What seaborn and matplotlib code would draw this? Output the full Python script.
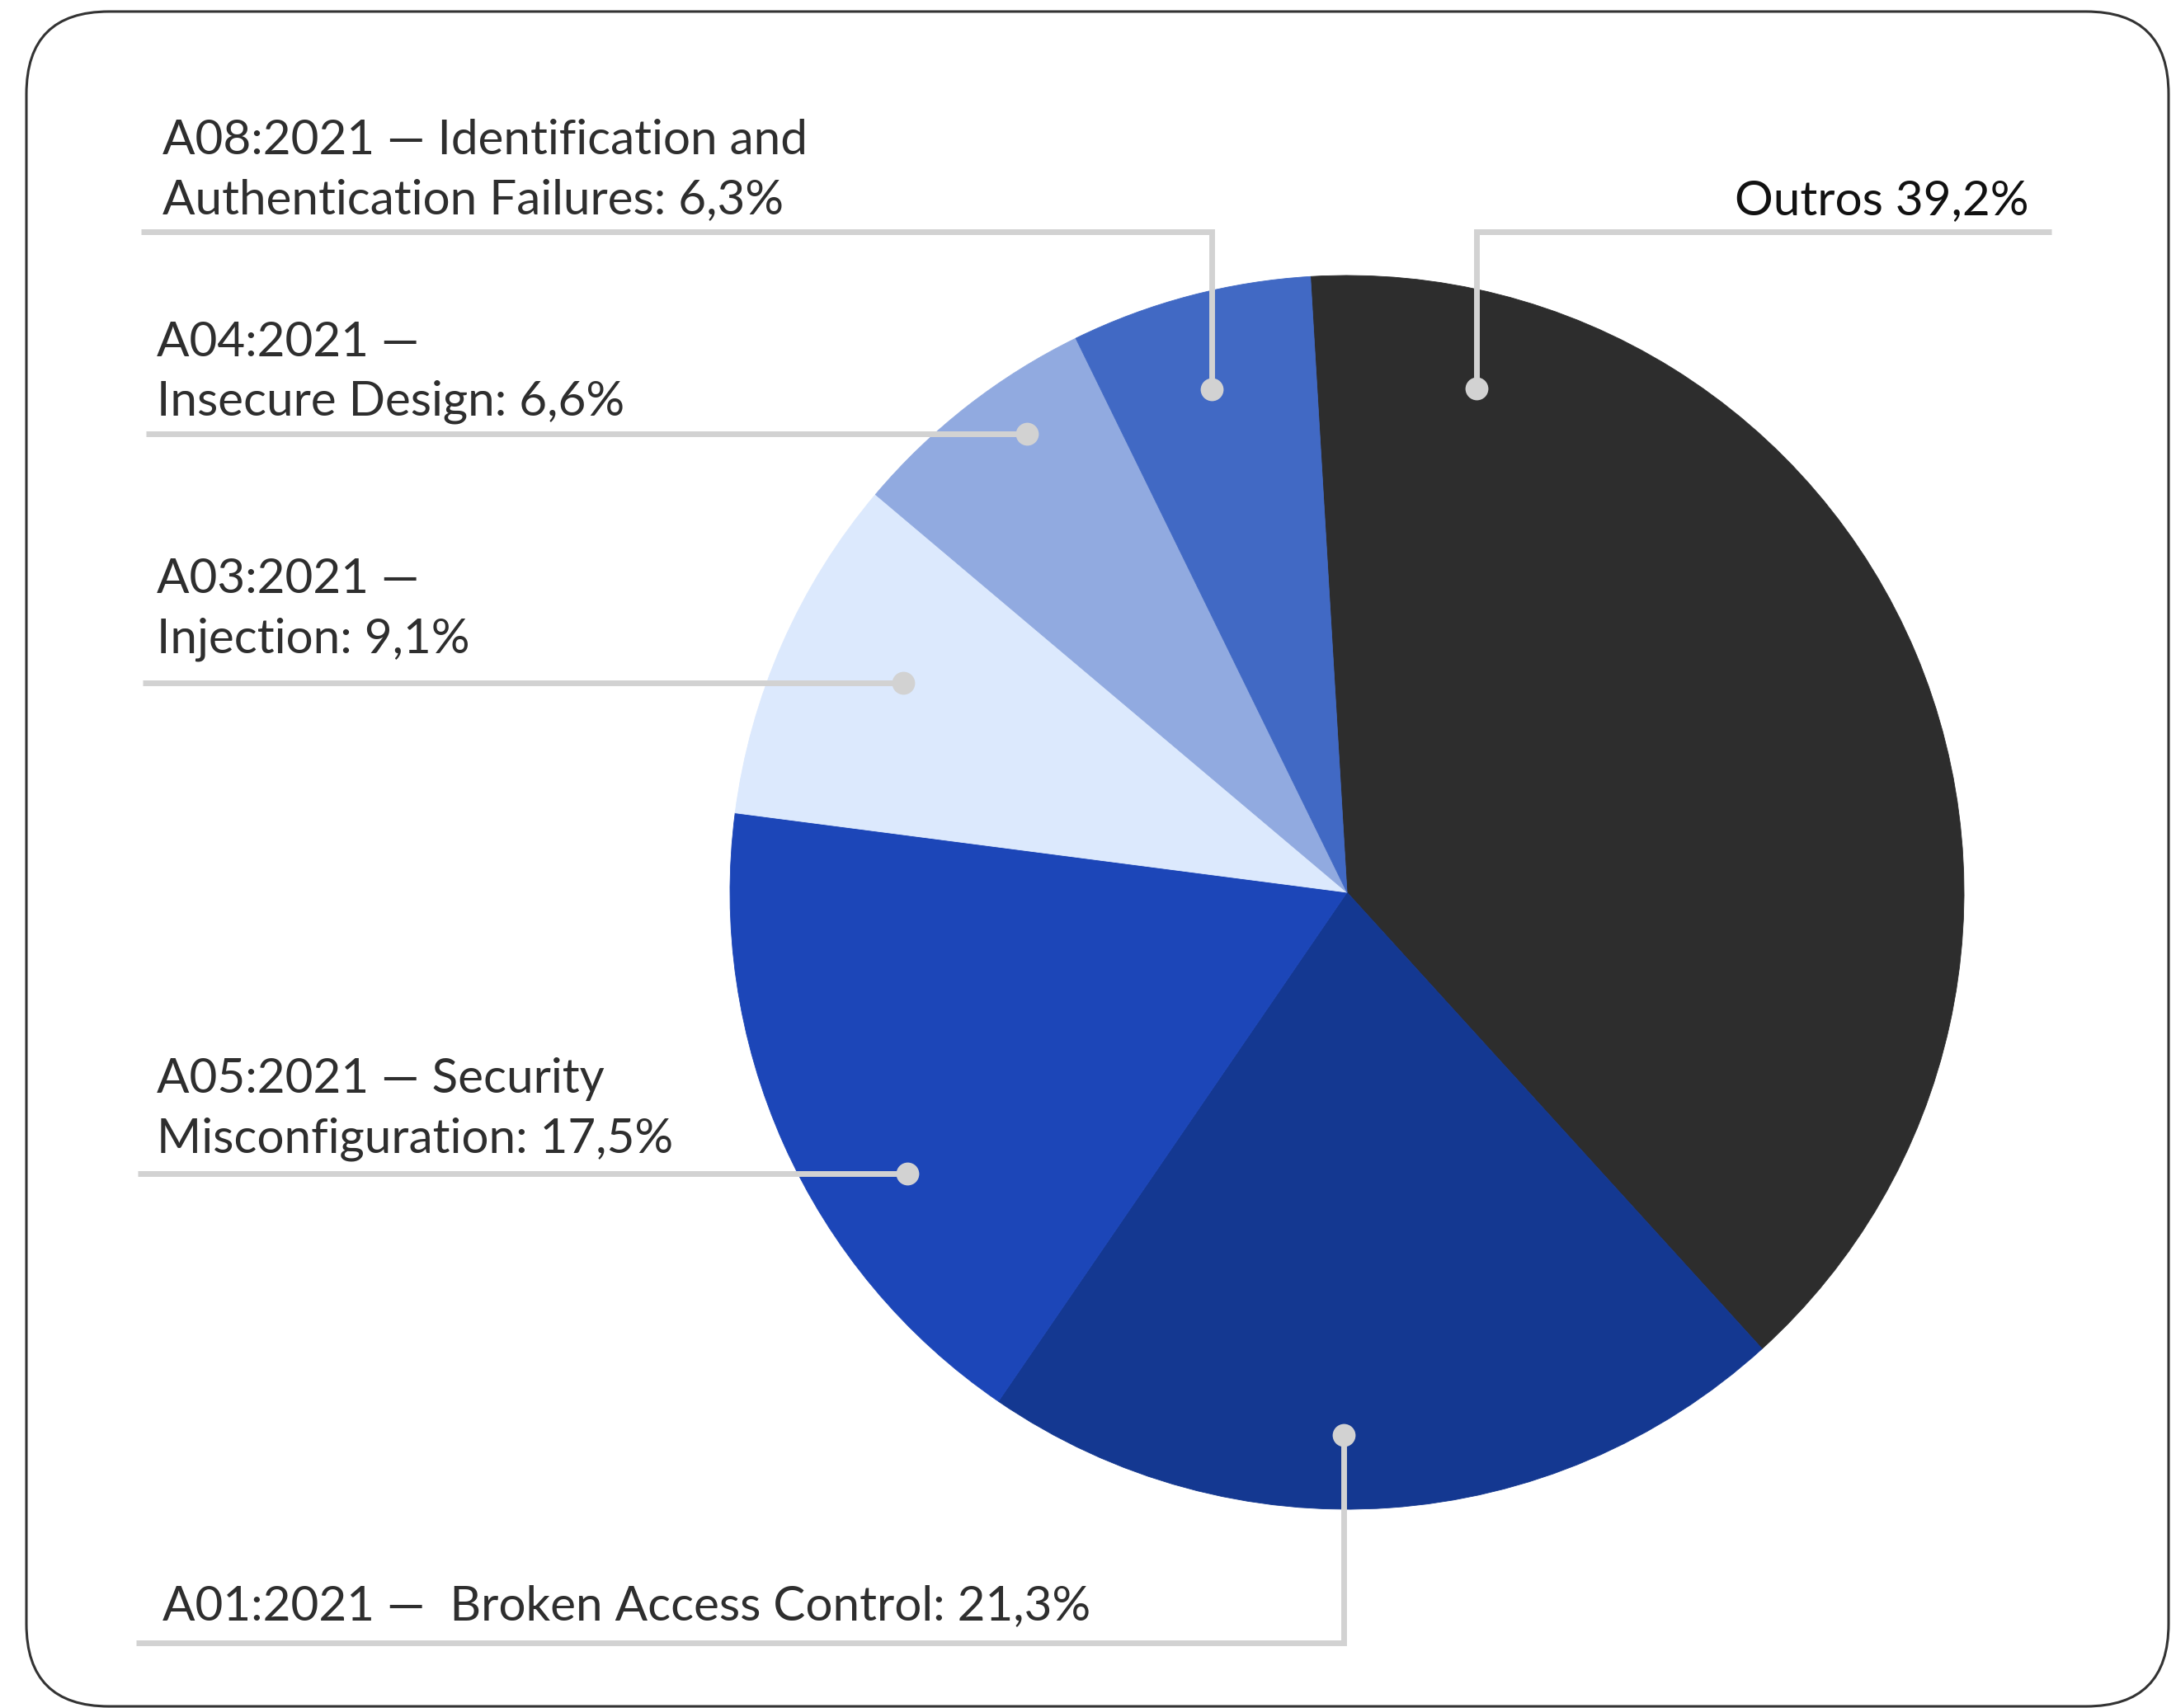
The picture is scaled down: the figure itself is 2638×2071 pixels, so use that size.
import matplotlib
matplotlib.use("Agg")
import matplotlib.pyplot as plt
from matplotlib.patches import FancyBboxPatch
import pandas as pd
import seaborn as sns

# ---------------------------------------------------------------- data
categories = ["Outros", "A01:2021", "A05:2021", "A03:2021", "A04:2021", "A08:2021"]
shares = [39.2, 21.3, 17.5, 9.1, 6.6, 6.3]
slice_colors = ["#2d2d2d", "#143891", "#1c46b8", "#dce9fd", "#91aae0", "#4169c4"]
label_templates = [
    "Outros {pct}",
    "A01:2021 —  Broken Access Control: {pct}",
    "A05:2021 — Security\nMisconfiguration: {pct}",
    "A03:2021 —\nInjection: {pct}",
    "A04:2021 —\nInsecure Design: {pct}",
    "A08:2021 — Identification and\nAuthentication Failures: {pct}",
]

df = pd.DataFrame({"category": categories, "share": shares,
                   "color": slice_colors, "template": label_templates})

# ---------------------------------------------------------------- canvas (pixel units, y from top)
W, H = 2638, 2071
DPI = 100

sns.set_theme(style="white")
plt.rcParams["font.family"] = ["Lato", "DejaVu Sans"]

fig = plt.figure(figsize=(W / DPI, H / DPI), dpi=DPI, facecolor="white")
ax = fig.add_axes([0, 0, 1, 1])


def Y(y):
    """Convert a top-down pixel row to the upward data axis."""
    return H - y


# ---------------------------------------------------------------- pie
PIE_CX, PIE_CY, PIE_R = 1633, 1082, 748
ax.pie(df["share"], colors=df["color"], startangle=93.4, counterclock=False,
       center=(PIE_CX, Y(PIE_CY)), radius=PIE_R,
       wedgeprops=dict(linewidth=0.6, antialiased=True))
for w in ax.patches:
    w.set_edgecolor(w.get_facecolor())

ax.set_xlim(0, W)
ax.set_ylim(0, H)
ax.set_aspect("equal")
ax.axis("off")

# ---------------------------------------------------------------- callouts
# text anchor (x, first baseline), alignment, leader tail x, shelf y, dot (x, y)
callouts = {
    "Outros":   dict(tx=2460, ty=260,  ha="right", tail=2487, shelf=281,  dot=(1790, 471)),
    "A01:2021": dict(tx=197,  ty=1964, ha="left",  tail=165,  shelf=1992, dot=(1629, 1740)),
    "A05:2021": dict(tx=190,  ty=1325, ha="left",  tail=167,  shelf=1423, dot=(1100, 1423)),
    "A03:2021": dict(tx=190,  ty=719,  ha="left",  tail=173,  shelf=828,  dot=(1095, 828)),
    "A04:2021": dict(tx=190,  ty=432,  ha="left",  tail=177,  shelf=526,  dot=(1245, 526)),
    "A08:2021": dict(tx=197,  ty=187,  ha="left",  tail=171,  shelf=281,  dot=(1469, 472)),
}

LEADER = "#d2d2d2"
TEXT = "#2e2e2e"
LINE_STEP = 72  # px between baselines

for _, row in df.iterrows():
    c = callouts[row["category"]]
    dx, dy = c["dot"]
    xs = [c["tail"], dx, dx]
    ys = [Y(c["shelf"]), Y(c["shelf"]), Y(dy)]
    ax.plot(xs, ys, color=LEADER, lw=5.0, solid_capstyle="butt",
            solid_joinstyle="miter", zorder=3)
    ax.plot([dx], [Y(dy)], "o", ms=20, color=LEADER, mew=0, zorder=4)

    pct = f"{row['share']:.1f}".replace(".", ",") + "%"
    label = row["template"].format(pct=pct)
    color = "#111111" if row["category"] == "Outros" else TEXT
    for i, line in enumerate(label.split("\n")):
        ax.text(c["tx"], Y(c["ty"] + i * LINE_STEP), line,
                ha=c["ha"], va="baseline", fontsize=42, color=color, zorder=5)

# ---------------------------------------------------------------- rounded frame
frame = FancyBboxPatch((32, Y(2069)), 2629 - 32, 2069 - 14,
                       boxstyle="round,pad=0,rounding_size=100",
                       facecolor="none", edgecolor="#333333", lw=2.2,
                       transform=ax.transData, zorder=6)
ax.add_patch(frame)

fig.savefig("out.png", dpi=DPI, facecolor="white")
